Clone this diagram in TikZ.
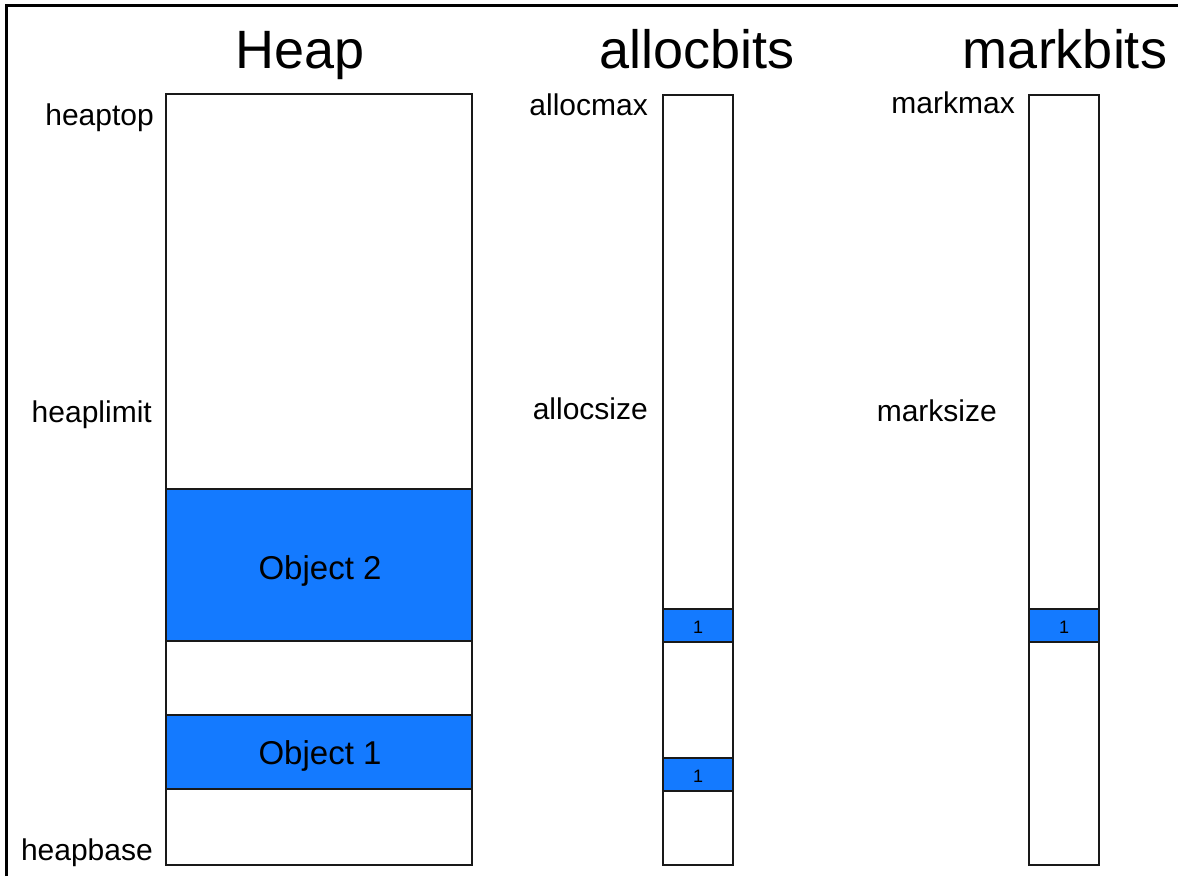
\documentclass[tikz,border=0pt]{standalone}
\usepackage{fontspec}
\setmainfont{Liberation Sans}
\definecolor{objblue}{RGB}{20,122,255}
\begin{document}
\begin{tikzpicture}[x=1pt,y=-1pt,
  box/.style={draw=black!90,line width=1.3pt,fill=white},
  obj/.style={draw=black!90,line width=1.3pt,fill=objblue},
  title/.style={font=\fontsize{54}{60}\selectfont,anchor=base},
  lbl/.style={font=\fontsize{30}{34}\selectfont,anchor=base east,inner sep=0pt},
  objlbl/.style={font=\fontsize{33}{38}\selectfont},
  bit/.style={font=\fontsize{18}{20}\selectfont}]
\useasboundingbox (0,0) rectangle (1178,876);
\draw[line width=3pt] (6,876) -- (6,5) -- (1178,5);
% titles
\node[title] (th) at (300,68) {Heap};
\node[title] (ta) at (697,68) {allocbits};
\node[title] (tm) at (1065,68) {markbits};
% heap
\draw[box] (166,94) rectangle (472,865);
\draw[obj] (166,489) rectangle (472,641);
\node[objlbl] (o2) at (320,571) {Object 2};
\draw[obj] (166,715) rectangle (472,789);
\node[objlbl] (o1) at (320,756) {Object 1};
\node[lbl] (htop) at (154,125) {heaptop};
\node[lbl] (hlim) at (152,422) {heaplimit};
\node[lbl] (hbase) at (153,860) {heapbase};
% allocbits
\draw[box] (663,95) rectangle (733,865);
\draw[obj] (663,609) rectangle (733,642);
\node[bit] (a1) at (698,627) {1};
\draw[obj] (663,758) rectangle (733,791);
\node[bit] (a2) at (698,776) {1};
\node[lbl] (amax) at (648,115) {allocmax};
\node[lbl] (asize) at (648,419) {allocsize};
% markbits
\draw[box] (1029,95) rectangle (1099,865);
\draw[obj] (1029,609) rectangle (1099,642);
\node[bit] (m1) at (1064,627) {1};
\node[lbl] (mmax) at (1015,113) {markmax};
\node[lbl] (msize) at (997,421) {marksize};
\end{tikzpicture}
\end{document}
